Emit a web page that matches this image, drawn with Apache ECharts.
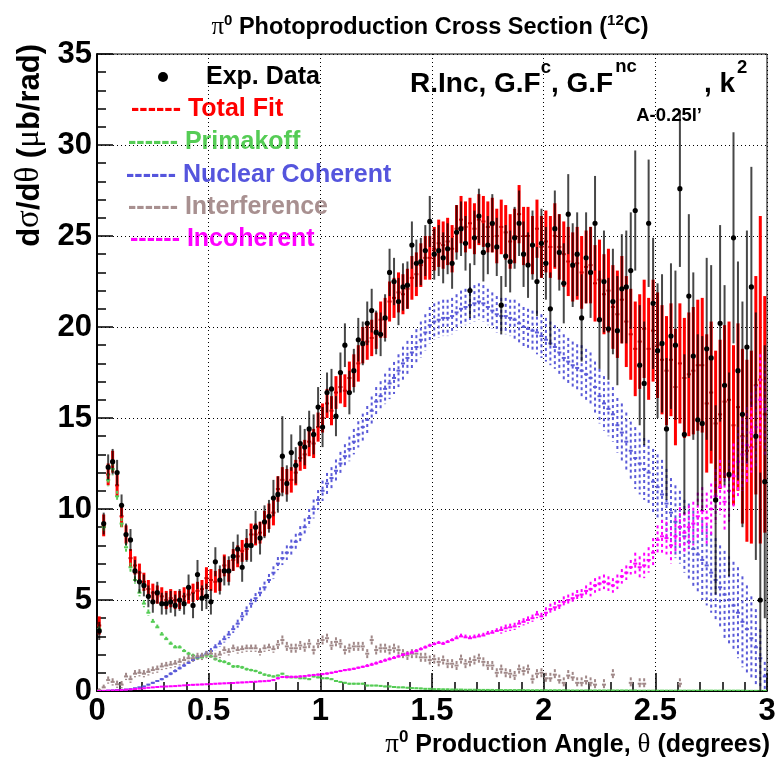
<!DOCTYPE html>
<html>
<head>
<meta charset="utf-8">
<script src="https://cdn.jsdelivr.net/npm/echarts@6/dist/echarts.min.js"></script>
<style>
html,body{margin:0;padding:0;background:#fff;}
#chart{width:777px;height:759px;}
</style>
</head>
<body>
<div id="chart"></div>
<script>
// ---------------- DATA ----------------
const theta = [
0.01,0.03,0.05,0.07,0.09,0.11,0.13,0.15,0.17,0.19,
0.21,0.23,0.25,0.27,0.29,0.31,0.33,0.35,0.37,0.39,
0.41,0.43,0.45,0.47,0.49,0.51,0.53,0.55,0.57,0.59,
0.61,0.63,0.65,0.67,0.69,0.71,0.73,0.75,0.77,0.79,
0.81,0.83,0.85,0.87,0.89,0.91,0.93,0.95,0.97,0.99,
1.01,1.03,1.05,1.07,1.09,1.11,1.13,1.15,1.17,1.19,
1.21,1.23,1.25,1.27,1.29,1.31,1.33,1.35,1.37,1.39,
1.41,1.43,1.45,1.47,1.49,1.51,1.53,1.55,1.57,1.59,
1.61,1.63,1.65,1.67,1.69,1.71,1.73,1.75,1.77,1.79,
1.81,1.83,1.85,1.87,1.89,1.91,1.93,1.95,1.97,1.99,
2.01,2.03,2.05,2.07,2.09,2.11,2.13,2.15,2.17,2.19,
2.21,2.23,2.25,2.27,2.29,2.31,2.33,2.35,2.37,2.39,
2.41,2.43,2.45,2.47,2.49,2.51,2.53,2.55,2.57,2.59,
2.61,2.63,2.65,2.67,2.69,2.71,2.73,2.75,2.77,2.79,
2.81,2.83,2.85,2.87,2.89,2.91,2.93,2.95,2.97,2.99];

const expVal = [
3.3,9.2,12.3,12.6,12.0,10.2,8.6,8.3,6.6,6.0,
5.8,5.2,4.9,5.4,4.8,4.8,4.9,4.7,5.0,4.8,
5.7,4.7,6.4,5.1,5.2,4.9,7.1,6.1,6.6,6.6,
7.4,7.8,6.8,8.0,8.0,9.0,8.4,9.3,9.6,10.6,
10.8,12.9,11.4,13.1,12.4,13.6,13.4,14.4,14.1,15.6,
14.5,16.4,16.6,15.1,17.5,19.0,16.4,17.6,19.3,19.1,
20.2,20.9,19.7,19.6,20.5,23.0,22.5,21.4,22.2,22.3,
24.5,23.5,23.6,24.2,25.8,24.0,24.2,23.8,24.3,23.5,
25.2,25.4,24.6,22.0,24.9,26.1,24.1,24.5,25.7,24.4,
21.2,23.9,23.6,24.9,25.7,24.0,23.4,24.5,22.5,24.6,
23.5,21.0,25.4,24.1,22.4,26.2,23.4,24.0,20.5,23.8,
23.0,25.7,20.4,22.5,19.9,21.4,19.8,22.1,22.2,23.1,
26.4,17.9,16.9,25.7,21.3,18.7,19.1,14.4,19.5,19.0,
27.6,14.1,21.7,18.4,14.9,14.7,18.8,18.3,10.5,20.2,
16.8,11.9,24.9,17.6,15.2,18.9,22.2,14.0,5.0,11.5];

const expErr = [
0.5,0.6,0.7,0.7,0.7,0.6,0.6,0.6,0.6,0.6,
0.6,0.6,0.6,0.6,0.6,0.6,0.6,0.6,0.6,0.6,
0.7,0.7,0.8,0.7,0.7,0.7,0.8,0.8,0.8,0.8,
0.8,0.8,0.8,0.9,0.9,0.9,0.9,0.9,0.9,1.0,
1.0,2.2,1.0,1.0,1.0,1.0,1.0,1.0,1.1,1.1,
1.1,1.1,1.1,1.1,1.1,1.2,1.2,1.2,1.2,1.2,
1.2,1.2,1.2,1.2,1.3,1.3,1.3,1.3,1.3,1.3,
1.3,1.3,1.3,1.4,1.4,1.4,1.4,1.4,1.4,1.4,
1.5,1.5,1.5,1.5,1.5,1.5,1.6,1.6,1.6,1.6,
1.6,1.7,1.7,1.7,1.8,1.8,1.8,1.9,1.9,1.9,
2.0,2.0,2.1,2.1,2.2,2.2,2.3,2.3,2.4,2.5,
2.5,2.6,2.7,2.8,2.8,2.9,3.0,3.0,3.1,3.2,
3.3,3.3,3.4,3.5,3.6,3.7,3.8,3.9,4.0,4.1,
4.3,4.4,4.5,4.6,4.7,4.8,5.0,5.1,5.2,5.4,
5.5,5.6,5.8,6.0,6.2,6.4,6.6,6.8,7.0,7.5];

const fitVal = [
3.6,9.1,11.9,12.6,11.3,9.6,8.6,7.3,6.9,6.5,
6.0,5.6,5.4,5.3,5.2,5.0,5.1,5.0,5.0,5.2,
5.3,5.4,5.5,5.6,6.2,6.1,6.0,6.1,6.9,6.6,
7.2,7.4,7.7,7.8,8.6,8.6,8.7,9.2,9.6,9.8,
11.1,11.6,11.5,11.6,12.0,12.8,13.0,13.7,13.6,14.5,
15.0,15.8,15.4,16.4,16.7,16.5,17.2,17.6,18.0,19.0,
19.2,19.4,19.8,20.4,20.5,21.4,21.6,21.9,21.8,22.1,
22.7,22.9,23.4,23.8,23.8,24.3,24.6,24.5,24.7,24.3,
25.4,25.9,25.5,25.7,25.4,25.9,25.8,25.5,25.6,25.0,
25.5,25.2,24.7,25.0,26.2,25.0,25.0,24.5,25.4,24.4,
24.7,24.4,25.0,24.4,24.0,23.6,23.3,23.5,23.0,23.3,
23.4,22.4,22.6,21.8,22.0,21.1,20.7,21.5,20.3,19.6,
18.8,19.2,19.9,18.8,19.8,19.0,18.2,17.6,18.2,16.7,
18.0,17.2,17.4,17.6,17.9,17.9,15.8,16.4,14.7,15.2,
15.9,16.0,14.6,15.6,14.0,13.2,13.4,16.8,17.1,15.2];

const fitErr = [
0.5,0.6,0.6,0.6,0.6,0.6,0.5,0.5,0.5,0.5,
0.5,0.5,0.5,0.5,0.5,0.5,0.5,0.5,0.5,0.5,
0.5,0.5,0.5,0.5,0.6,0.6,0.6,0.6,0.6,0.6,
0.6,0.6,0.6,0.6,0.6,0.6,0.6,0.7,0.7,0.7,
0.7,0.7,0.7,0.7,0.7,0.7,0.8,0.8,0.8,0.8,
0.8,0.8,0.8,0.9,0.9,0.9,0.9,0.9,1.0,1.0,
1.0,1.0,1.0,1.0,1.1,1.1,1.1,1.1,1.1,1.1,
1.2,1.2,1.2,1.2,1.2,1.2,1.3,1.3,1.3,1.3,
1.3,1.3,1.4,1.4,1.4,1.4,1.4,1.4,1.5,1.5,
1.5,1.5,1.5,1.5,1.6,1.6,1.6,1.6,1.6,1.7,
1.7,1.7,1.8,1.8,1.8,1.9,1.9,2.0,2.0,2.0,
2.1,2.1,2.2,2.2,2.3,2.3,2.4,2.4,2.5,2.5,
2.6,2.6,2.7,2.8,2.8,2.9,3.0,3.0,3.1,3.2,
3.3,3.3,3.4,3.5,3.6,3.7,3.8,3.9,4.0,4.1,
4.2,4.3,4.4,4.6,4.8,5.0,5.3,6.0,9.0,6.5];

const primVal = [
3.4,9.0,11.6,12.2,10.7,9.2,7.9,6.8,6.1,5.4,
4.8,4.3,3.8,3.5,3.1,2.85,2.6,2.4,2.4,2.2,
2.05,1.95,1.8,1.85,1.95,1.9,1.75,1.65,1.6,1.5,
1.35,1.35,1.3,1.2,1.15,1.1,1.0,0.9,0.85,0.8,
0.85,0.95,0.8,0.75,0.75,0.7,0.7,0.65,0.8,0.75,
0.7,0.7,0.65,0.55,0.5,0.45,0.4,0.4,0.4,0.4,
0.3,0.3,0.3,0.28,0.25,0.25,0.22,0.2,0.2,0.18,
0.16,0.15,0.14,0.12,0.12,0.1,0.1,0.09,0.09,0.08,
0.08,0.08,0.07,0.07,0.07,0.06,0.06,0.06,0.06,0.05,
0.05,0.05,0.05,0.05,0.05,0.05,0.04,0.04,0.04,0.04,
0.04,0.04,0.04,0.04,0.04,0.03,0.03,0.03,0.03,0.03,
0.03,0.03,0.03,0.03,0.03,0.03,0.03,0.03,0.03,0.03,
0.03,0.02,0.02,0.02,0.02,0.02,0.02,0.02,0.02,0.02,
0.02,0.02,0.02,0.02,0.02,0.02,0.02,0.02,0.02,0.02,
0.02,0.02,0.02,0.02,0.02,0.01,0.01,0.01,0.01,0.01];

const primErr = [
0.15,0.3,0.35,0.35,0.3,0.3,0.25,0.25,0.2,0.2,
0.2,0.18,0.16,0.15,0.14,0.13,0.12,0.12,0.11,0.1,
0.1,0.1,0.1,0.1,0.1,0.1,0.09,0.09,0.09,0.09,
0.08,0.08,0.08,0.08,0.07,0.07,0.07,0.07,0.06,0.06,
0.05,0.05,0.05,0.05,0.05,0.05,0.05,0.05,0.05,0.05,
0.05,0.05,0.05,0.05,0.05,0.05,0.05,0.05,0.05,0.05,
0.04,0.04,0.04,0.04,0.04,0.04,0.04,0.04,0.04,0.04,
0.04,0.04,0.04,0.04,0.04,0.04,0.04,0.04,0.04,0.04,
0.03,0.03,0.03,0.03,0.03,0.03,0.03,0.03,0.03,0.03,
0.03,0.03,0.03,0.03,0.03,0.03,0.03,0.03,0.03,0.03,
0.03,0.03,0.03,0.03,0.03,0.03,0.03,0.03,0.03,0.03,
0.03,0.03,0.03,0.03,0.03,0.03,0.03,0.03,0.03,0.03,
0.03,0.03,0.03,0.03,0.03,0.03,0.03,0.03,0.03,0.03,
0.03,0.03,0.03,0.03,0.03,0.03,0.03,0.03,0.03,0.03,
0.03,0.03,0.03,0.03,0.03,0.03,0.03,0.03,0.03,0.03];

const cohVal = [
0.0,0.0,0.02,0.03,0.05,0.06,0.08,0.1,0.15,0.2,
0.25,0.35,0.45,0.55,0.65,0.8,0.95,1.1,1.25,1.4,
1.55,1.7,1.85,1.95,2.05,2.2,2.4,2.6,2.85,3.1,
3.4,3.7,4.1,4.4,4.8,5.1,5.4,5.7,6.1,6.5,
7.0,7.3,7.6,7.9,8.2,8.6,9.0,9.5,10.0,10.5,
11.0,11.4,11.7,12.1,12.5,12.9,13.3,13.7,14.1,14.5,
14.9,15.4,15.9,16.2,16.6,16.9,17.2,17.6,18.0,18.3,
18.6,18.9,19.3,19.7,20.1,20.3,20.4,20.5,20.5,20.6,
20.8,21.0,21.1,21.2,21.3,21.4,21.3,21.1,20.9,20.7,
20.6,20.6,20.5,20.4,20.2,20.0,19.9,19.8,19.7,19.5,
19.3,19.1,18.9,18.6,18.3,18.1,17.9,17.75,17.6,17.4,
17.2,16.7,16.2,15.8,15.5,15.2,14.6,14.2,13.7,13.2,
12.8,12.5,12.2,12.0,11.5,11.2,10.8,10.3,9.8,9.3,
9.0,8.5,8.2,7.8,7.5,7.2,6.9,6.5,6.1,5.7,
5.3,5.0,4.7,4.3,3.8,3.4,2.9,2.4,1.8,0.8];

const cohErr = [
0.0,0.0,0.01,0.01,0.01,0.01,0.01,0.02,0.02,0.03,
0.03,0.04,0.05,0.05,0.06,0.07,0.08,0.09,0.1,0.1,
0.11,0.12,0.13,0.14,0.15,0.16,0.17,0.18,0.19,0.2,
0.21,0.22,0.24,0.25,0.27,0.28,0.3,0.31,0.33,0.35,
0.36,0.38,0.4,0.42,0.44,0.46,0.48,0.5,0.52,0.54,
0.56,0.58,0.6,0.62,0.64,0.66,0.68,0.7,0.72,0.74,
0.76,0.78,0.8,0.82,0.84,0.86,0.88,0.9,0.92,0.94,
0.96,0.98,1.0,1.0,1.0,1.0,1.0,1.0,1.0,1.0,
1.0,1.0,1.0,1.0,1.0,1.0,1.0,1.0,1.0,1.0,
1.0,1.0,1.0,1.1,1.1,1.1,1.1,1.1,1.2,1.2,
1.2,1.2,1.2,1.3,1.3,1.3,1.3,1.3,1.4,1.4,
1.4,1.4,1.5,1.5,1.5,1.5,1.5,1.6,1.6,1.6,
1.7,1.7,1.7,1.8,1.8,1.8,1.9,1.9,1.9,2.0,
2.0,2.0,2.1,2.1,2.1,2.2,2.2,2.2,2.3,2.3,
2.4,2.4,2.4,2.5,2.5,2.4,2.3,2.1,1.6,0.8];

const intVal = [
0.05,0.2,0.6,0.5,0.37,0.35,0.8,0.65,0.95,1.0,
0.95,1.05,1.15,1.2,1.35,1.4,1.45,1.5,1.6,1.7,
1.8,1.8,1.9,1.9,2.0,2.05,1.9,2.0,2.25,2.15,
2.35,2.25,2.3,2.35,2.35,2.35,2.15,2.35,2.4,2.3,
2.55,2.8,2.45,2.35,2.35,2.5,2.4,2.6,2.25,2.6,
2.8,2.9,2.5,2.7,2.6,2.25,2.35,2.45,2.45,2.45,
2.05,2.8,2.25,2.35,2.35,2.25,2.35,2.25,2.05,1.95,
2.05,2.05,1.85,1.85,1.7,1.75,1.6,1.7,1.5,1.5,
1.4,1.75,1.5,1.6,1.7,1.8,1.6,1.4,1.4,1.0,
1.2,1.0,0.95,0.85,1.2,1.1,1.2,0.65,0.95,1.0,
0.7,0.7,0.9,0.6,0.45,0.85,0.75,0.45,0.45,0.55,
0.45,0.35,null,0.35,null,0.9,null,null,null,0.45,
null,0.4,0.4,null,null,null,null,null,null,null,
0.4,null,null,null,null,null,null,null,null,null,
null,null,null,null,null,null,null,null,null,null];

const intErr = [
0.1,0.15,0.2,0.2,0.2,0.2,0.2,0.2,0.2,0.2,
0.2,0.2,0.2,0.2,0.2,0.2,0.2,0.2,0.2,0.2,
0.2,0.2,0.2,0.2,0.2,0.2,0.2,0.2,0.2,0.2,
0.2,0.2,0.2,0.2,0.2,0.2,0.2,0.2,0.2,0.2,
0.25,0.25,0.25,0.25,0.25,0.25,0.25,0.25,0.25,0.25,
0.25,0.25,0.25,0.25,0.25,0.25,0.25,0.25,0.25,0.25,
0.25,0.25,0.25,0.25,0.25,0.25,0.25,0.25,0.25,0.25,
0.25,0.25,0.25,0.25,0.25,0.25,0.25,0.25,0.25,0.25,
0.25,0.25,0.25,0.25,0.25,0.25,0.25,0.25,0.25,0.25,
0.25,0.25,0.25,0.25,0.25,0.25,0.25,0.25,0.25,0.25,
0.3,0.3,0.3,0.3,0.3,0.3,0.3,0.3,0.3,0.3,
0.3,0.3,0.3,0.3,0.3,0.3,0.3,0.3,0.3,0.3,
0.3,0.3,0.3,0.3,0.3,0.3,0.3,0.3,0.3,0.3,
0.3,0.3,0.3,0.3,0.3,0.3,0.3,0.3,0.3,0.3,
0.3,0.3,0.3,0.3,0.3,0.3,0.3,0.3,0.3,0.3];

const incVal = [
0.0,0.01,0.02,0.03,0.04,0.05,0.07,0.09,0.11,0.13,
0.15,0.18,0.2,0.22,0.24,0.25,0.26,0.27,0.29,0.31,
0.33,0.34,0.35,0.36,0.37,0.38,0.4,0.41,0.42,0.43,
0.44,0.46,0.47,0.48,0.5,0.51,0.53,0.54,0.56,0.6,
0.7,0.77,0.76,0.78,0.78,0.8,0.82,0.85,0.88,0.9,
0.93,0.96,1.0,1.05,1.1,1.15,1.18,1.22,1.28,1.33,
1.38,1.45,1.52,1.6,1.68,1.75,1.82,1.9,1.98,2.05,
2.12,2.2,2.3,2.4,2.5,2.58,2.65,2.6,2.7,2.8,
2.9,3.0,2.95,2.9,2.95,3.0,3.05,3.15,3.2,3.3,
3.35,3.45,3.5,3.55,3.7,3.8,3.9,4.0,4.2,4.1,
4.3,4.5,4.6,4.7,4.9,5.0,5.1,5.25,5.3,5.5,
5.6,5.8,5.9,6.0,5.9,5.8,6.0,6.3,6.5,6.8,
7.0,6.8,6.9,7.2,7.6,8.3,8.5,8.4,8.0,8.5,
9.0,8.7,9.0,9.2,9.6,9.9,9.5,10.0,10.7,11.2,
10.4,11.0,11.8,12.6,13.0,13.5,14.2,14.5,16.0,15.5];

const incErr = [
0.02,0.02,0.02,0.02,0.02,0.02,0.02,0.02,0.02,0.02,
0.02,0.02,0.02,0.02,0.02,0.02,0.02,0.02,0.02,0.02,
0.04,0.04,0.04,0.04,0.04,0.04,0.04,0.04,0.04,0.04,
0.04,0.04,0.04,0.04,0.04,0.04,0.04,0.04,0.04,0.04,
0.06,0.06,0.06,0.06,0.06,0.06,0.06,0.06,0.06,0.06,
0.06,0.06,0.06,0.06,0.06,0.06,0.06,0.06,0.06,0.06,
0.1,0.1,0.1,0.1,0.1,0.1,0.1,0.1,0.1,0.1,
0.1,0.1,0.1,0.1,0.1,0.1,0.1,0.1,0.1,0.1,
0.15,0.15,0.15,0.15,0.15,0.15,0.15,0.15,0.15,0.15,
0.2,0.2,0.2,0.2,0.2,0.2,0.2,0.2,0.2,0.2,
0.3,0.3,0.3,0.3,0.3,0.3,0.3,0.3,0.3,0.3,
0.4,0.4,0.4,0.4,0.4,0.4,0.4,0.4,0.4,0.4,
0.6,0.6,0.7,0.7,0.8,0.8,0.9,0.9,1.0,1.0,
1.1,1.1,1.2,1.2,1.3,1.3,1.4,1.4,1.5,1.5,
1.6,1.7,1.8,1.9,2.0,2.1,2.2,2.3,2.5,2.6];

const xTicks = [0, 0.5, 1, 1.5, 2, 2.5, 3];
const yTicks = [0, 5, 10, 15, 20, 25, 30, 35];

// ---------------- RENDERING ----------------
const SANS = '"Liberation Sans", Arial, Helvetica, sans-serif';
const SERIF = '"Liberation Serif", "DejaVu Serif", serif';
const HALF_BIN = 0.009;

function errSeries(name, vals, errs, st) {
  const data = [];
  for (let i = 0; i < theta.length; i++) {
    if (vals[i] === null || vals[i] === undefined) continue;
    data.push([theta[i], vals[i], errs[i]]);
  }
  return {
    name: name, type: 'custom', data: data, clip: true, silent: true,
    encode: { x: 0, y: 1 },
    renderItem: function (params, api) {
      const x = api.value(0), y = api.value(1), e = api.value(2);
      const c = api.coord([x, y]);
      const t = api.coord([x, y + e]);
      const b = api.coord([x, y - e]);
      const children = [];
      children.push({ type: 'line', shape: { x1: c[0], y1: t[1], x2: c[0], y2: b[1] },
        style: { stroke: st.color, lineWidth: st.vw, lineDash: st.dash || null } });
      if (st.hw) {
        const l = api.coord([x - HALF_BIN, y]);
        const r = api.coord([x + HALF_BIN, y]);
        children.push({ type: 'line', shape: { x1: l[0], y1: c[1], x2: r[0], y2: c[1] },
          style: { stroke: st.hcolor || st.color, lineWidth: st.hw } });
      }
      if (st.dot) {
        children.push({ type: 'circle', shape: { cx: c[0], cy: c[1], r: st.dot },
          style: { fill: st.dotColor } });
      }
      return { type: 'group', children: children };
    }
  };
}

// text layout helpers (measure widths with canvas)
const mctx = document.createElement('canvas').getContext('2d');
function fontOf(s) { return (s.b ? 'bold ' : '') + s.size + 'px ' + (s.serif ? SERIF : SANS); }
function widthOf(s) { mctx.font = fontOf(s); return mctx.measureText(s.t).width; }
function runWidth(segs) { let w = 0; segs.forEach(s => { w += (s.dx || 0) + widthOf(s); }); return w; }
function layoutRun(segs, x0, base, color) {
  let x = x0; const els = [];
  segs.forEach(s => {
    x += (s.dx || 0);
    const f = fontOf(s);
    els.push({ type: 'text', x: x, y: base + (s.dy || 0) - 0.35 * s.size, silent: true,
      style: { text: s.t, font: f, fill: s.color || color,
        textAlign: 'left', textVerticalAlign: 'middle', align: 'left', verticalAlign: 'middle' } });
    x += widthOf(s);
  });
  return els;
}

const graphics = [];

// Title
const titleSegs = [
  { t: 'π', size: 25, serif: true },
  { t: '0', size: 15, b: true, dy: -10 },
  { t: ' Photoproduction Cross Section (', size: 23.5, b: true },
  { t: '12', size: 15, b: true, dy: -10 },
  { t: 'C)', size: 23.5, b: true }
];
const tw = runWidth(titleSegs);
layoutRun(titleSegs, 430 - tw / 2, 36, '#000').forEach(e => graphics.push(e));

// X axis title (right aligned)
const xtSegs = [
  { t: 'π', size: 27, serif: true },
  { t: '0', size: 17, b: true, dy: -11 },
  { t: ' Production Angle, ', size: 25, b: true },
  { t: 'θ', size: 27, serif: true },
  { t: ' (degrees)', size: 25, b: true }
];
const xw = runWidth(xtSegs);
layoutRun(xtSegs, 770 - xw, 754, '#000').forEach(e => graphics.push(e));

// Y axis title (rotated)
const ytSegs = [
  { t: 'd', size: 31, b: true },
  { t: 'σ', size: 33, serif: true },
  { t: '/d', size: 31, b: true },
  { t: 'θ', size: 33, serif: true },
  { t: ' (', size: 31, b: true },
  { t: 'μ', size: 33, serif: true },
  { t: 'b/rad)', size: 31, b: true }
];
const yw = runWidth(ytSegs);
graphics.push({ type: 'group', x: 41, y: 44 + yw, rotation: Math.PI / 2, silent: true,
  children: layoutRun(ytSegs, 0, 0, '#000') });

// Legend
graphics.push({ type: 'circle', shape: { cx: 163, cy: 77, r: 5 }, style: { fill: '#000' }, silent: true });
const legendRows = [
  { t: 'Exp. Data', x: 206, y: 77, c: '#000000' },
  { t: '------ Total Fit', x: 131, y: 109, c: '#ff0000' },
  { t: '------ Primakoff', x: 128, y: 142, c: '#55cc55' },
  { t: '------ Nuclear Coherent', x: 126, y: 175, c: '#5555dd' },
  { t: '------ Interference', x: 128, y: 207, c: '#a89090' },
  { t: '------ Incoherent', x: 130, y: 239, c: '#ff00ff' }
];
legendRows.forEach(r => {
  graphics.push({ type: 'text', x: r.x, y: r.y, silent: true,
    style: { text: r.t, font: 'bold 25px ' + SANS, fill: r.c,
      textAlign: 'left', textVerticalAlign: 'middle', align: 'left', verticalAlign: 'middle' } });
});

// Model label
(function () {
  const base = 94;
  const main = 28, small = 18.5;
  let x = 410;
  const pieces = [];
  function put(t, size, dy) {
    const s = { t: t, size: size, b: true, dy: dy };
    pieces.push(...layoutRun([s], x, base, '#000'));
    return widthOf(s);
  }
  x += put('R.Inc, G.F', main, 0);
  x += put('c', small, -20);
  x += put(', G.F', main, 0) + 2;
  const wSup = put('nc', small, -21);
  const subX = x + 21;
  const sub = { t: 'A-0.25l’', size: small, b: true, dy: 28 };
  pieces.push(...layoutRun([sub], subX, base, '#000'));
  x = Math.max(x + wSup, subX + widthOf(sub)) + 2;
  x += put(', k', main, 0) + 2;
  x += put('2', small, -20);
  pieces.forEach(p => graphics.push(p));
})();

const axisFont = { fontFamily: SANS, fontWeight: 'bold', fontSize: 31, color: '#000' };

const option = {
  animation: false,
  backgroundColor: '#ffffff',
  grid: { left: 97, right: 10, top: 54, bottom: 68, show: true, borderColor: '#000', borderWidth: 1,
          backgroundColor: 'transparent', containLabel: false, outerBoundsMode: 'none' },
  xAxis: {
    type: 'value', min: xTicks[0], max: xTicks[xTicks.length - 1], interval: xTicks[1] - xTicks[0],
    axisLine: { show: true, onZero: false, lineStyle: { color: '#000', width: 2 } },
    axisTick: { show: true, inside: true, length: 18, lineStyle: { color: '#000', width: 1.5 } },
    minorTick: { show: true, splitNumber: 5, length: 9, lineStyle: { color: '#000', width: 1.5 } },
    splitLine: { show: true, lineStyle: { color: '#000', width: 1, type: [1, 3] } },
    axisLabel: Object.assign({ margin: 5, showMinLabel: true, showMaxLabel: true,
      formatter: v => String(v) }, axisFont)
  },
  yAxis: {
    type: 'value', min: yTicks[0], max: yTicks[yTicks.length - 1], interval: yTicks[1] - yTicks[0],
    axisLine: { show: true, onZero: false, lineStyle: { color: '#000', width: 2 } },
    axisTick: { show: true, inside: true, length: 16, lineStyle: { color: '#000', width: 1.5 } },
    minorTick: { show: true, splitNumber: 5, length: 9, lineStyle: { color: '#000', width: 1.5 } },
    splitLine: { show: true, lineStyle: { color: '#000', width: 1, type: [1, 3] } },
    axisLabel: Object.assign({ margin: 5, showMinLabel: true, showMaxLabel: true,
      formatter: v => String(v) }, axisFont)
  },
  series: [
    errSeries('Total Fit', fitVal, fitErr, { color: '#ff0000', vw: 3, hw: 2, hcolor: '#cc0000' }),
    errSeries('Primakoff', primVal, primErr, { color: '#55cc55', vw: 2, hw: 2, dash: [3, 3] }),
    errSeries('Nuclear Coherent', cohVal, cohErr, { color: '#5a5ad8', vw: 2, hw: 2, dash: [3, 3] }),
    errSeries('Interference', intVal, intErr, { color: '#a08888', vw: 2, hw: 2, dash: [3, 3] }),
    errSeries('Incoherent', incVal, incErr, { color: '#ff00ff', vw: 2, hw: 2, dash: [3, 3] }),
    errSeries('Exp. Data', expVal, expErr, { color: 'rgba(0,0,0,0.72)', vw: 2, hw: 0, dot: 2.6, dotColor: '#000' })
  ],
  graphic: { elements: graphics }
};

const chart = echarts.init(document.getElementById('chart'), null, { renderer: 'canvas' });
chart.setOption(option);
</script>
</body>
</html>
